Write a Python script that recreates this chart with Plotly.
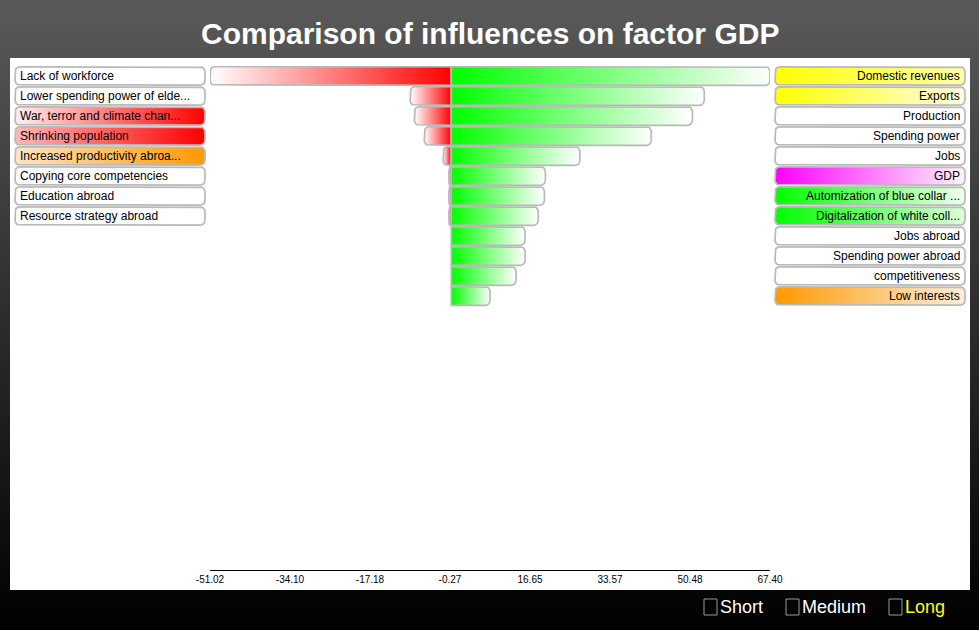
import numpy as np
import plotly.graph_objects as go

W, H = 979, 630

# ---------------- data ----------------
title = "Comparison of influences on factor GDP"
left_labels = ["Lack of workforce", "Lower spending power of elde...",
               "War, terror and climate chan...", "Shrinking population",
               "Increased productivity abroa...", "Copying core competencies",
               "Education abroad", "Resource strategy abroad"]
right_labels = ["Domestic revenues", "Exports", "Production", "Spending power",
                "Jobs", "GDP", "Automization of blue collar ...",
                "Digitalization of white coll...", "Jobs abroad",
                "Spending power abroad", "competitiveness", "Low interests"]
neg_values = [-51.017, -8.7, -7.8, -5.7, -1.7, -0.5, -0.5, -0.5, 0, 0, 0, 0]
pos_values = [67.40, 53.5, 51.0, 42.3, 27.2, 19.9, 19.7, 18.4, 15.6, 15.6, 13.7, 8.2]
left_label_colors = [("#ffffff", "#ffffff"), ("#ffffff", "#ffffff"),
                     ("#fff0f0", "#ff0000"), ("#ffb8b8", "#ff0000"),
                     ("#ffe6c4", "#ff9900"), ("#ffffff", "#ffffff"),
                     ("#ffffff", "#ffffff"), ("#ffffff", "#ffffff")]
right_label_colors = [("#ffff00", "#ffffa8"), ("#ffff00", "#ffffe6"),
                      ("#ffffff", "#ffffff"), ("#ffffff", "#ffffff"),
                      ("#ffffff", "#ffffff"), ("#ff00ff", "#fff4ff"),
                      ("#00ff00", "#f0fff0"), ("#00ff00", "#dcffdc"),
                      ("#ffffff", "#ffffff"), ("#ffffff", "#ffffff"),
                      ("#ffffff", "#ffffff"), ("#ff9900", "#ffeedd")]
legend_items = ["Short", "Medium", "Long"]
legend_colors = ["#ffffff", "#ffffff", "#ffff00"]
n_ticks = 8

# ---------------- layout geometry ----------------
BAR_X0, BAR_X1 = 210, 770          # pixel extent of value axis
ROW_TOP, ROW_PITCH, AX_BOTTOM = 66, 20, 570
xmin, xmax = min(neg_values), max(pos_values)
y_bottom = -0.5 + (AX_BOTTOM - ROW_TOP) / ROW_PITCH
px_per_x = (BAR_X1 - BAR_X0) / (xmax - xmin)
BORDER = "#b9b9b9"
FONT = "Liberation Sans, Arial"

def rrect(x0, x1, y0, y1, rx, ry, round_left=True, round_right=True, n=7):
    w = x1 - x0
    rx = min(rx, w / 2)
    ry = min(ry, (y1 - y0) / 2)
    pts = []
    def arc(cx, cy, a0, r_on):
        if r_on and rx > 0:
            for t in np.linspace(a0, a0 + np.pi / 2, n):
                pts.append((cx + rx * np.cos(t), cy + ry * np.sin(t)))
        else:
            pts.append((cx + rx * np.sign(np.cos(a0 + np.pi / 4)),
                        cy + ry * np.sign(np.sin(a0 + np.pi / 4))))
    arc(x1 - rx, y1 - ry, 0, round_right)
    arc(x0 + rx, y1 - ry, np.pi / 2, round_left)
    arc(x0 + rx, y0 + ry, np.pi, round_left)
    arc(x1 - rx, y0 + ry, 3 * np.pi / 2, round_right)
    pts.append(pts[0])
    xs, ys = zip(*pts)
    return list(xs), list(ys)

fig = go.Figure()

def add_fill(xs, ys, cs, xa, ya, gtype="horizontal", line_color=BORDER, lw=1.7):
    fig.add_trace(go.Scatter(
        x=xs, y=ys, mode="lines", fill="toself", xaxis=xa, yaxis=ya,
        line=dict(color=line_color, width=lw),
        fillgradient=dict(type=gtype, colorscale=cs),
        hoverinfo="skip", showlegend=False))

# background gradient (pixel subplot)
add_fill([0, W, W, 0, 0], [0, 0, H, H, 0],
         [[0, "#000000"], [1, "#5a5a5a"]], "x", "y", gtype="vertical",
         line_color="rgba(0,0,0,0)", lw=0)
# white panel
add_fill([10, 970, 970, 10, 10], [58, 58, 590, 590, 58],
         [[0, "#ffffff"], [1, "#ffffff"]], "x", "y",
         line_color="rgba(0,0,0,0)", lw=0)

# label boxes
def row_px(i):
    return ROW_TOP + ROW_PITCH * i

for i, (lab, (c0, c1)) in enumerate(zip(left_labels, left_label_colors)):
    y0 = row_px(i) + 0.8
    y1 = row_px(i) + ROW_PITCH - 0.8
    xs, ys = rrect(15, 205, y0, y1, 5, 5)
    add_fill(xs, ys, [[0, c0], [1, c1]], "x", "y")
    fig.add_annotation(x=18, y=(y0 + y1) / 2, xref="x", yref="y", text=lab,
                       showarrow=False, xanchor="left", yanchor="middle",
                       font=dict(family=FONT, size=12, color="#000"))

for i, (lab, (c0, c1)) in enumerate(zip(right_labels, right_label_colors)):
    y0 = row_px(i) + 0.8
    y1 = row_px(i) + ROW_PITCH - 0.8
    xs, ys = rrect(775, 965, y0, y1, 5, 5)
    add_fill(xs, ys, [[0, c0], [1, c1]], "x", "y")
    fig.add_annotation(x=962, y=(y0 + y1) / 2, xref="x", yref="y", text=lab,
                       showarrow=False, xanchor="right", yanchor="middle",
                       font=dict(family=FONT, size=12, color="#000"))

# bars (value subplot)
rx = 5 / px_per_x
ry = 5 / ROW_PITCH
hh = 0.47
for i, v in enumerate(neg_values):
    if v < 0:
        xs, ys = rrect(v, 0, i - hh, i + hh, rx, ry, round_left=True, round_right=False)
        add_fill(xs, ys, [[0, "#ffffff"], [1, "#ff0000"]], "x2", "y2")
for i, v in enumerate(pos_values):
    if v > 0:
        xs, ys = rrect(0, v, i - hh, i + hh, rx, ry, round_left=False, round_right=True)
        add_fill(xs, ys, [[0, "#00ff00"], [1, "#ffffff"]], "x2", "y2")

tickvals = list(np.linspace(xmin, xmax, n_ticks))
ticktext = ["%.2f" % t for t in tickvals]

# legend checkboxes
leg_x = [704, 786, 889]
for lx, lab, col in zip(leg_x, legend_items, legend_colors):
    fig.add_shape(type="rect", xref="x", yref="y", x0=lx, x1=lx + 13, y0=599, y1=615,
                  line=dict(color="#9a9a9a", width=1), fillcolor="rgba(0,0,0,0)")
    fig.add_annotation(x=lx + 14, y=607, xref="x", yref="y", text=lab, showarrow=False,
                       xanchor="left", yanchor="middle",
                       font=dict(family=FONT, size=18, color=col))

fig.add_annotation(x=W / 2, y=33, xref="x", yref="y", text="<b>" + title + "</b>",
                   showarrow=False, xanchor="center", yanchor="middle",
                   font=dict(family=FONT, size=30, color="#ffffff"))

fig.update_layout(
    width=W, height=H, margin=dict(l=0, r=0, t=0, b=0, pad=0, autoexpand=False),
    paper_bgcolor="#000000", plot_bgcolor="rgba(0,0,0,0)",
    showlegend=False,
    xaxis=dict(domain=[0, 1], range=[0, W], visible=False, fixedrange=True),
    yaxis=dict(domain=[0, 1], range=[H, 0], visible=False, fixedrange=True),
    xaxis2=dict(domain=[BAR_X0 / W, BAR_X1 / W], range=[xmin, xmax], anchor="y2",
                tickvals=tickvals, ticktext=ticktext, showline=True,
                linecolor="#000000", linewidth=1, showgrid=False, zeroline=False,
                automargin=False,
                ticks="", tickfont=dict(family=FONT, size=10, color="#000")),
    yaxis2=dict(domain=[(H - AX_BOTTOM) / H, (H - ROW_TOP) / H], range=[y_bottom, -0.5],
                anchor="x2", visible=False, showgrid=False, zeroline=False),
)

fig.write_html(
    "out.html",
    config={"responsive": False, "displayModeBar": False},
    post_script="document.body.style.margin='0';document.body.style.overflow='hidden';",
)
